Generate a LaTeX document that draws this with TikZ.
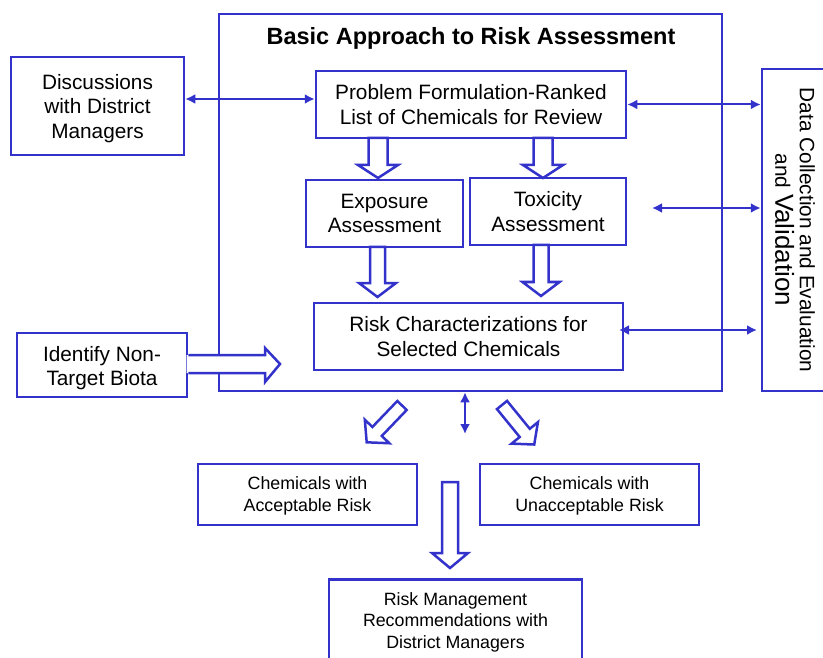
\documentclass[tikz,border=0pt]{standalone}
\usepackage{fontspec}
\setmainfont{Liberation Sans}
\usetikzlibrary{arrows.meta}
\definecolor{bl}{RGB}{51,51,204}
\tikzset{
  box/.style={draw=bl, line width=2.5pt, fill=white, inner sep=0pt, align=center,
    text depth=0pt, font=\fontsize{20.8}{24.5}\selectfont},
  sbox/.style={box, font=\fontsize{17.8}{22}\selectfont},
  txt/.style={inner sep=0pt, align=center},
  dbl/.style={draw=bl, line width=2pt, {Latex[length=10pt,width=10pt]}-{Latex[length=10pt,width=10pt]}},
  barrow/.style={draw=bl, line width=2.5pt, fill=white, line join=miter},
}
\newcommand{\blockarr}[6]{%
  \begin{scope}[shift={#1},rotate=#2]
    \draw[barrow] (0,-#4) -- (#3-#6,-#4) -- (#3-#6,-#5) -- (#3,0) -- (#3-#6,#5) -- (#3-#6,#4) -- (0,#4) -- cycle;
  \end{scope}}
\begin{document}
\begin{tikzpicture}[x=1pt,y=-1pt]
\useasboundingbox (0,0) rectangle (823,658);
\clip (0,0) rectangle (823,658);
\fill[white] (0,0) rectangle (823,658);
% frame
\node[box, minimum width=503pt, minimum height=377pt] (frame) at (470.5,202.5) {};
\node[txt, font=\fontsize{23.5}{26}\selectfont\bfseries] (title) at (471,38) {Basic Approach to Risk Assessment};
% boxes
\node[box, minimum width=173pt, minimum height=98pt] (disc) at (97.5,106) {Discussions\\with District\\Managers};
\node[box, minimum width=310pt, minimum height=67pt] (prob) at (471,104.5) {Problem Formulation-Ranked\\List of Chemicals for Review};
\node[box, minimum width=157pt, minimum height=67pt] (expo) at (384.5,213.5) {Exposure\\Assessment};
\node[box, minimum width=156pt, minimum height=67pt] (tox) at (548,211.5) {Toxicity\\Assessment};
\node[box, minimum width=309pt, minimum height=67pt] (risk) at (468.5,336.5) {Risk Characterizations for\\Selected Chemicals};
\node[box, minimum width=170pt, minimum height=64pt] (ident) at (102,365) {};
\node[txt, font=\fontsize{20.8}{24.5}\selectfont] (identt) at (102,368) {Identify Non-\\Target Biota};
\node[box, minimum width=80pt, minimum height=322pt] (data) at (802,230) {};
\node[txt, rotate=-90, font=\fontsize{20.8}{24.5}\selectfont] (datatxt) at (795,230)
  {Data Collection and Evaluation\\and {\fontsize{26}{24.5}\selectfont Validation}};
\node[sbox, minimum width=219pt, minimum height=61pt] (acc) at (307.5,494.5) {};
\node[txt, font=\fontsize{17.8}{22}\selectfont] (acct) at (307.5,496) {Chemicals with\\Acceptable Risk};
\node[sbox, minimum width=219pt, minimum height=61pt] (unacc) at (589.5,494.5) {};
\node[txt, font=\fontsize{17.8}{22}\selectfont] (unacct) at (589.5,496) {Chemicals with\\Unacceptable Risk};
\node[sbox, minimum width=253pt, minimum height=104pt, anchor=north] (mgmt) at (455.5,578) {};
\node[txt, font=\fontsize{17.8}{21.5}\selectfont] (mgmtt) at (455.5,622) {Risk Management\\Recommendations with\\District Managers};
% identify arrow
\fill[white] (186.5,355) -- (265,355) -- (265,348) -- (280,364) -- (265,382) -- (265,373) -- (186.5,373) -- cycle;
\draw[draw=bl, line width=2.5pt, line join=miter] (ident.east |- 0,355) -- (265,355) -- (265,348) -- (280,364) -- (265,382) -- (265,373) -- (ident.east |- 0,373);
% thin double arrows
\coordinate (c1) at (652,208);
\coordinate (c2) at (619,330);
\coordinate (c3) at (757,330);
\coordinate (c4) at (465,434);
\draw[dbl] ([yshift=7pt]disc.east) -- (prob.west |- 0,99);
\draw[dbl] (prob.east) -- (data.west |- prob.east);
\draw[dbl] (c1) -- (data.west |- c1);
\draw[dbl] (c2) -- (c3);
\draw[dbl] (frame.south -| c4) -- (c4);
% block arrows
\blockarr{(378,138)}{-90}{40}{9.5}{20}{13}
\blockarr{(543,138)}{-90}{40}{9.5}{20}{13}
\blockarr{(377.5,247)}{-90}{50}{7.5}{18.5}{14}
\blockarr{(541,245)}{-90}{51}{7.5}{18.5}{14}
\blockarr{(450,482)}{-90}{86}{8}{18}{15}
\blockarr{(402,405.5)}{-133.8}{51}{6.5}{17}{15}
\blockarr{(502,405)}{-50.8}{51}{6.5}{17}{15}
\end{tikzpicture}
\end{document}
